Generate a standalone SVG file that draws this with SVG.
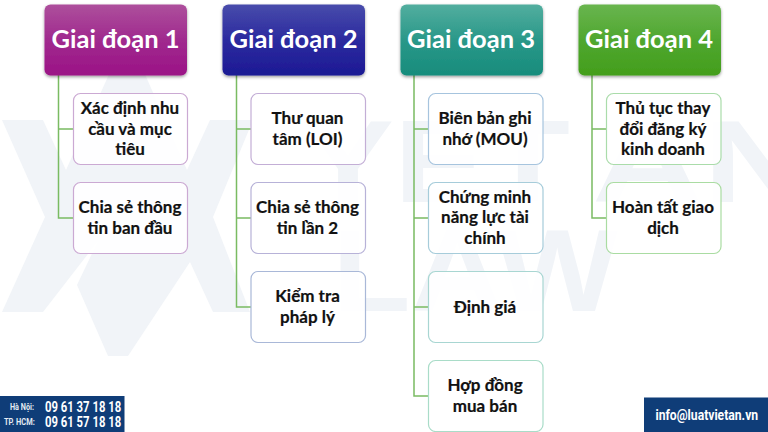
<svg xmlns="http://www.w3.org/2000/svg" width="768" height="432" viewBox="0 0 768 432">
<defs>
<linearGradient id="g1" x1="0" y1="0" x2="0" y2="1"><stop offset="0" stop-color="#ad4f9c"/><stop offset=".5" stop-color="#a02a8e"/><stop offset="1" stop-color="#9b1286"/></linearGradient>
<linearGradient id="g2" x1="0" y1="0" x2="0" y2="1"><stop offset="0" stop-color="#484cab"/><stop offset=".5" stop-color="#2c2a9f"/><stop offset="1" stop-color="#1c1a94"/></linearGradient>
<linearGradient id="g3" x1="0" y1="0" x2="0" y2="1"><stop offset="0" stop-color="#52ae9f"/><stop offset=".5" stop-color="#2a9889"/><stop offset="1" stop-color="#178c7c"/></linearGradient>
<linearGradient id="g4" x1="0" y1="0" x2="0" y2="1"><stop offset="0" stop-color="#69b54f"/><stop offset=".5" stop-color="#50a72f"/><stop offset="1" stop-color="#439e1c"/></linearGradient>
<filter id="sh" x="-10%" y="-10%" width="120%" height="125%"><feDropShadow dx="0" dy="1.500" stdDeviation="1.500" flood-color="#000" flood-opacity=".4"/></filter>
</defs>
<style>
.h{filter:url(#sh)}
.ht{font:700 25.500px Lato,"Open Sans",sans-serif;fill:#fff;text-anchor:middle}
.c{fill:#fff;fill-opacity:.9;stroke-width:1.200}
.ct{font:700 17px Lato,"Open Sans",sans-serif;fill:#111;text-anchor:middle;stroke:#111;stroke-width:.2}
.wm{fill:#f1f4f8}
.wt{font:700 116px "Liberation Sans",sans-serif;fill:#f1f4f8}
.bar{fill:#0f3d78}
.ph{font:700 15px Roboto,sans-serif;fill:#fff}
.lb{font:700 9.500px Roboto,sans-serif;fill:#e4ebf3}
.ln{fill:none;stroke:#7abb62;stroke-width:1.500}
</style>
<g id="watermark">
<polygon class="wm" points="2,120 43,120 66,170 110,72 144,72 187,170 210,120 253,120 213,217 250,312 213,312 190,262 128,356 108,356 77,285 98,241 43,312 2,312 45,217"/>
<text class="wt" x="302" y="202" textLength="268" lengthAdjust="spacingAndGlyphs">YET</text>
<text class="wt" x="592" y="202" textLength="222" lengthAdjust="spacingAndGlyphs">AN</text>
<text class="wt" x="332" y="311" textLength="286" lengthAdjust="spacingAndGlyphs">LAW</text>
</g>
<g id="connectors">
<path class="ln" d="M58.500 75V218H73M58.500 129H73"/>
<path class="ln" d="M236.500 75V307H251M236.500 129H251M236.500 218H251"/>
<path class="ln" d="M414 75V396H428.500M414 129H428.500M414 218H428.500M414 307H428.500"/>
<path class="ln" d="M592 75V218H606.500M592 129H606.500"/>
</g>
<g id="stage1"><rect class="h" x="44.500" y="4.500" width="142.500" height="71" rx="6" fill="url(#g1)"/><text class="ht" x="115.500" y="47.500">Giai đoạn 1</text></g>
<g id="stage2"><rect class="h" x="222.500" y="4.500" width="142.500" height="71" rx="6" fill="url(#g2)"/><text class="ht" x="293.500" y="47.500">Giai đoạn 2</text></g>
<g id="stage3"><rect class="h" x="400.500" y="4.500" width="142.500" height="71" rx="6" fill="url(#g3)"/><text class="ht" x="471" y="47.500">Giai đoạn 3</text></g>
<g id="stage4"><rect class="h" x="578.500" y="4.500" width="142.500" height="71" rx="6" fill="url(#g4)"/><text class="ht" x="649" y="47.500">Giai đoạn 4</text></g>
<g id="n1a"><rect class="c" x="73.500" y="93.500" width="114" height="71" rx="7" stroke="#cba9d3"/><text class="ct"><tspan x="130" y="114">Xác định nhu</tspan><tspan x="130" y="134.500">cầu và mục</tspan><tspan x="130" y="155">tiêu</tspan></text></g>
<g id="n1b"><rect class="c" x="73.500" y="182.500" width="114" height="71" rx="7" stroke="#cba9d3"/><text class="ct"><tspan x="130" y="213">Chia sẻ thông</tspan><tspan x="130" y="233.500">tin ban đầu</tspan></text></g>
<g id="n2a"><rect class="c" x="251" y="93.500" width="114.500" height="71" rx="7" stroke="#c3aed6"/><text class="ct"><tspan x="307.500" y="124">Thư quan</tspan><tspan x="307.500" y="144.500">tâm (LOI)</tspan></text></g>
<g id="n2b"><rect class="c" x="251" y="182.500" width="114.500" height="71" rx="7" stroke="#b7b2d8"/><text class="ct"><tspan x="307.500" y="213">Chia sẻ thông</tspan><tspan x="307.500" y="233.500">tin lần 2</tspan></text></g>
<g id="n2c"><rect class="c" x="251" y="271.500" width="114.500" height="71" rx="7" stroke="#a9b8d8"/><text class="ct"><tspan x="307.500" y="302">Kiểm tra</tspan><tspan x="307.500" y="322.500">pháp lý</tspan></text></g>
<g id="n3a"><rect class="c" x="428.500" y="93.500" width="114.500" height="71" rx="7" stroke="#a6c4de"/><text class="ct"><tspan x="485" y="124">Biên bản ghi</tspan><tspan x="485" y="144.500">nhớ (MOU)</tspan></text></g>
<g id="n3b"><rect class="c" x="428.500" y="182.500" width="114.500" height="71" rx="7" stroke="#a6ccda"/><text class="ct"><tspan x="485" y="203">Chứng minh</tspan><tspan x="485" y="223">năng lực tài</tspan><tspan x="485" y="243.500">chính</tspan></text></g>
<g id="n3c"><rect class="c" x="428.500" y="271.500" width="114.500" height="71" rx="7" stroke="#a8d6d2"/><text class="ct" x="485" y="312.500">Định giá</text></g>
<g id="n3d"><rect class="c" x="428.500" y="360.500" width="114.500" height="71" rx="7" stroke="#a9dcc8"/><text class="ct"><tspan x="485" y="391">Hợp đồng</tspan><tspan x="485" y="411.500">mua bán</tspan></text></g>
<g id="n4a"><rect class="c" x="606.500" y="93.500" width="114.500" height="71" rx="7" stroke="#aadcaa"/><text class="ct"><tspan x="663" y="114">Thủ tục thay</tspan><tspan x="663" y="134.500">đổi đăng ký</tspan><tspan x="663" y="155">kinh doanh</tspan></text></g>
<g id="n4b"><rect class="c" x="606.500" y="182.500" width="114.500" height="71" rx="7" stroke="#aadca2"/><text class="ct"><tspan x="663" y="213">Hoàn tất giao</tspan><tspan x="663" y="233.500">dịch</tspan></text></g>
<g id="hotline"><rect class="bar" x="0" y="396" width="124.500" height="36"/>
<text class="lb" transform="translate(10 410) scale(.75 1)" textLength="32" lengthAdjust="spacingAndGlyphs">Hà Nội:</text>
<text class="lb" transform="translate(4 425) scale(.75 1)" textLength="41" lengthAdjust="spacingAndGlyphs">TP. HCM:</text>
<text class="ph" transform="translate(45 412) scale(.74 1)" textLength="103" lengthAdjust="spacingAndGlyphs">09 61 37 18 18</text>
<text class="ph" transform="translate(45 426.500) scale(.74 1)" textLength="103" lengthAdjust="spacingAndGlyphs">09 61 57 18 18</text></g>
<g id="email"><rect class="bar" x="644" y="397.500" width="124" height="34.500"/><text class="ph" transform="translate(655.500 420) scale(.76 1)" textLength="135" lengthAdjust="spacingAndGlyphs">info@luatvietan.vn</text></g>
</svg>
